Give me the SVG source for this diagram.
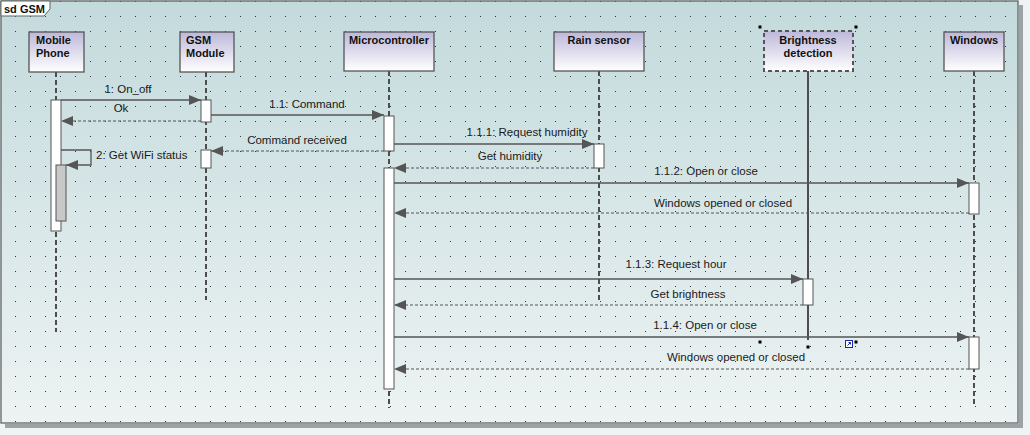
<svg xmlns="http://www.w3.org/2000/svg" width="1030" height="435" viewBox="0 0 1030 435">
<defs>
<linearGradient id="bg" x1="0" y1="0" x2="0" y2="1">
<stop offset="0" stop-color="#c3dadc"/>
<stop offset="1" stop-color="#edf3f3"/>
</linearGradient>
<linearGradient id="hg" x1="0" y1="0" x2="0" y2="1">
<stop offset="0" stop-color="#bdb8da"/>
<stop offset="1" stop-color="#ffffff"/>
</linearGradient>
<pattern id="dots" patternUnits="userSpaceOnUse" x="0" y="0" width="15" height="15">
<rect x="0" y="1" width="1" height="1" fill="#2e3a3a"/>
</pattern>
<marker id="ah" markerUnits="userSpaceOnUse" markerWidth="12" markerHeight="10" refX="12" refY="5" orient="auto">
<path d="M0,0 L12,5 L0,10 z" fill="#555"/>
</marker>
<style>
.head{fill:url(#hg);stroke:#555;stroke-width:1.3}
.ht{font-family:"Liberation Sans",Arial,sans-serif;font-size:11px;font-weight:bold;fill:#111}
.life{stroke:#4d4d4d;stroke-width:2;stroke-dasharray:5 3;fill:none}
.act{fill:#fff;stroke:#555;stroke-width:1}
.msg{stroke:#555;stroke-width:1.3;fill:none;marker-end:url(#ah)}
.ret{stroke:#555;stroke-width:1;stroke-dasharray:3 2;fill:none;marker-end:url(#ah)}
.lbl{font-family:"Liberation Sans",Arial,sans-serif;font-size:11.5px;fill:#1a1a1a;text-anchor:middle}
.hdl{fill:#000}
</style>
</defs>
<rect x="0" y="0" width="1030" height="435" fill="#eef3f3"/>
<rect x="1019" y="5" width="4" height="423" fill="#9aa4a4"/>
<rect x="5" y="424" width="1018" height="4" fill="#9aa4a4"/>
<rect x="1" y="1" width="1017" height="422" fill="url(#bg)"/>
<rect x="1" y="1" width="1017" height="422" fill="url(#dots)"/>
<rect x="1" y="1" width="1017" height="422" fill="none" stroke="#5f6666" stroke-width="1.3"/>
<g id="frame-tab">
<path d="M1,1 H50 V9 L44,16 H1 Z" fill="#fff" stroke="#5f6666" stroke-width="1"/>
<text x="4" y="13" class="ht">sd GSM</text>
</g>

<g id="mobile-phone">
<line x1="56" y1="72" x2="56" y2="332" class="life"/>
<rect x="29" y="32" width="55" height="40" class="head"/>
<text x="36" y="44" class="ht">Mobile</text>
<text x="36" y="57" class="ht">Phone</text>
<rect x="51" y="100" width="10" height="131" class="act"/>
<rect x="56" y="165" width="10" height="56" fill="#c8c8c8" stroke="#555" stroke-width="1"/>
</g>

<g id="gsm-module">
<line x1="206" y1="72" x2="206" y2="300" class="life"/>
<rect x="180" y="32" width="54" height="40" class="head"/>
<text x="186" y="44" class="ht">GSM</text>
<text x="186" y="57" class="ht">Module</text>
<rect x="201" y="100" width="10" height="22" class="act"/>
<rect x="201" y="150" width="10" height="18" class="act"/>
</g>

<g id="microcontroller">
<line x1="389" y1="71" x2="389" y2="408" class="life"/>
<rect x="344" y="32" width="90" height="39" class="head"/>
<text x="389" y="44" class="ht" text-anchor="middle">Microcontroller</text>
<rect x="384" y="116" width="10" height="35" class="act"/>
<rect x="384" y="168" width="10" height="221" class="act"/>
</g>

<g id="rain-sensor">
<line x1="599" y1="71" x2="599" y2="300" class="life"/>
<rect x="554" y="32" width="90" height="39" class="head"/>
<text x="599" y="44" class="ht" text-anchor="middle">Rain sensor</text>
<rect x="594" y="144" width="10" height="24" class="act"/>
</g>

<g id="brightness-detection">
<line x1="808" y1="71" x2="808" y2="340" stroke="#4d4d4d" stroke-width="2"/>
<rect x="764" y="31" width="89" height="40" fill="url(#hg)" stroke="#555" stroke-width="2" stroke-dasharray="4 3"/>
<text x="808" y="44" class="ht" text-anchor="middle">Brightness</text>
<text x="808" y="57" class="ht" text-anchor="middle">detection</text>
<rect x="803" y="279" width="10" height="26" class="act"/>
<rect x="758.5" y="25.5" width="3" height="3" class="hdl"/>
<rect x="854.5" y="25.5" width="3" height="3" class="hdl"/>
<rect x="758.5" y="340.5" width="3" height="3" class="hdl"/>
<rect x="854.5" y="340.5" width="3" height="3" class="hdl"/>
<rect x="806.5" y="345.5" width="3" height="3" class="hdl"/>
<rect x="845.5" y="340.5" width="7" height="7" fill="#fff" stroke="#1a2aa0" stroke-width="1"/>
<path d="M847.5,345.5 L850.5,342.5 M848.5,342.5 H850.5 V344.5" stroke="#1a2aa0" stroke-width="1" fill="none"/>
</g>

<g id="windows">
<line x1="974" y1="71" x2="974" y2="404" class="life"/>
<rect x="944" y="32" width="60" height="39" class="head"/>
<text x="974" y="44" class="ht" text-anchor="middle">Windows</text>
<rect x="969" y="183" width="10" height="31" class="act"/>
<rect x="969" y="337" width="10" height="32" class="act"/>
</g>

<g id="connectors">
<line x1="61" y1="100" x2="201" y2="100" class="msg"/>
<text x="128" y="93" class="lbl">1: On_off</text>
<line x1="201" y1="121" x2="61" y2="121" class="ret"/>
<text x="121" y="112" class="lbl">Ok</text>
<line x1="211" y1="115" x2="384" y2="115" class="msg"/>
<text x="307" y="108" class="lbl">1.1: Command</text>
<line x1="384" y1="151" x2="211" y2="151" class="ret"/>
<text x="297" y="144" class="lbl">Command received</text>
<path d="M61,150 H91 V165 H66" class="msg"/>
<text x="96" y="159" class="lbl" text-anchor="start" style="text-anchor:start">2: Get WiFi status</text>
<line x1="394" y1="144" x2="594" y2="144" class="msg"/>
<text x="527" y="136" class="lbl">1.1.1: Request humidity</text>
<line x1="594" y1="168" x2="394" y2="168" class="ret"/>
<text x="510" y="160" class="lbl">Get humidity</text>
<line x1="394" y1="183" x2="969" y2="183" class="msg"/>
<text x="706" y="175" class="lbl">1.1.2: Open or close</text>
<line x1="969" y1="213" x2="394" y2="213" class="ret"/>
<text x="723" y="207" class="lbl">Windows opened or closed</text>
<line x1="394" y1="279" x2="803" y2="279" class="msg"/>
<text x="676" y="268" class="lbl">1.1.3: Request hour</text>
<line x1="803" y1="305" x2="394" y2="305" class="ret"/>
<text x="688" y="298" class="lbl">Get brightness</text>
<line x1="394" y1="337" x2="969" y2="337" class="msg"/>
<text x="705" y="329" class="lbl">1.1.4: Open or close</text>
<line x1="969" y1="369" x2="394" y2="369" class="ret"/>
<text x="736" y="361" class="lbl">Windows opened or closed</text>
</g>
</svg>
